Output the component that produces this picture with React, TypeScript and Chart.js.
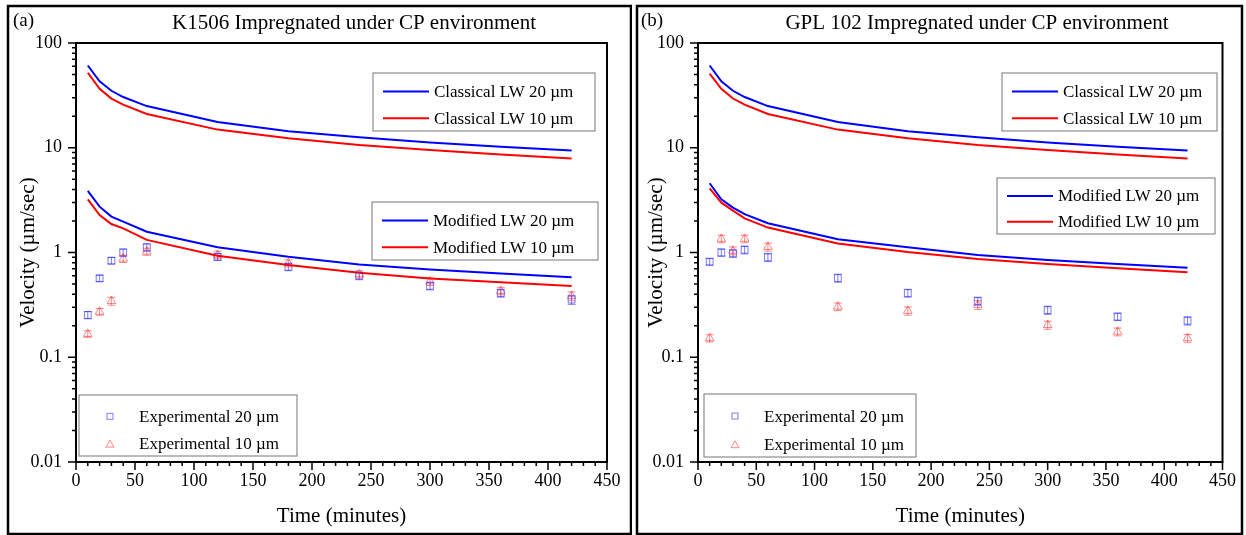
import React, { useEffect, useRef } from 'react';
import { Chart, registerables } from 'chart.js';

Chart.register(...registerables);

const FONT = '"Liberation Serif", "Times New Roman", Times, serif';

// ---------------- data ----------------
const times = [10, 20, 30, 40, 60, 120, 180, 240, 300, 360, 420];

const xTicks = [0, 50, 100, 150, 200, 250, 300, 350, 400, 450];
const yDecades = [0.01, 0.1, 1, 10, 100];
const yDecadeLabels = ['0.01', '0.1', '1', '10', '100'];

// Panel (a) K1506
const classA20 = [61, 43, 35, 30.5, 25, 17.6, 14.4, 12.6, 11.2, 10.2, 9.4];
const classA10 = [52, 36.5, 29.5, 25.8, 21, 14.9, 12.3, 10.6, 9.5, 8.6, 7.9];
const modA20 = [3.87, 2.74, 2.2, 1.97, 1.58, 1.12, 0.91, 0.77, 0.69, 0.63, 0.58];
const modA10 = [3.22, 2.28, 1.87, 1.7, 1.32, 0.93, 0.76, 0.64, 0.565, 0.52, 0.48];
const expA20 = [0.253, 0.567, 0.836, 1.0, 1.12, 0.91, 0.73, 0.6, 0.48, 0.41, 0.355];
const expA10 = [0.167, 0.272, 0.344, 0.873, 1.02, 0.95, 0.79, 0.62, 0.53, 0.43, 0.385];
const errA20 = [0.02, 0.04, 0.06, 0.08, 0.09, 0.07, 0.06, 0.05, 0.04, 0.035, 0.035];
const errA10 = [0.012, 0.02, 0.03, 0.07, 0.08, 0.08, 0.06, 0.05, 0.045, 0.035, 0.035];

// Panel (b) GPL 102
const classB20 = [61, 43, 35, 30.5, 25, 17.6, 14.4, 12.6, 11.2, 10.2, 9.4];
const classB10 = [51, 36.5, 29.5, 25.8, 21, 14.9, 12.3, 10.6, 9.5, 8.6, 7.9];
const modB20 = [4.58, 3.22, 2.68, 2.32, 1.9, 1.34, 1.12, 0.946, 0.85, 0.776, 0.715];
const modB10 = [4.1, 2.99, 2.51, 2.12, 1.73, 1.22, 1.01, 0.867, 0.776, 0.706, 0.647];
const expB20 = [0.817, 1.0, 0.98, 1.06, 0.9, 0.57, 0.41, 0.344, 0.282, 0.244, 0.223];
const expB10 = [0.152, 1.35, 1.04, 1.35, 1.13, 0.304, 0.277, 0.316, 0.203, 0.175, 0.152];
const errB20 = [0.06, 0.08, 0.08, 0.09, 0.08, 0.05, 0.035, 0.03, 0.025, 0.02, 0.02];
const errB10 = [0.012, 0.11, 0.09, 0.11, 0.1, 0.025, 0.025, 0.03, 0.018, 0.015, 0.013];

const seriesLabels = [
  'Classical LW 20 \u00b5m',
  'Classical LW 10 \u00b5m',
  'Modified LW 20 \u00b5m',
  'Modified LW 10 \u00b5m',
  'Experimental 20 \u00b5m',
  'Experimental 10 \u00b5m',
];

const BLUE = '#0000ff';
const RED = '#ff0000';
const BLUE_PT = 'rgba(40,40,255,0.6)';
const RED_PT = 'rgba(255,40,40,0.55)';

type Kind = 'line' | 'square' | 'triangle';
interface LegendItem { label: string; kind: Kind; color: string }
interface LegendBox { x: number; y: number; w: number; h: number; rows: [number, number]; items: LegendItem[] }

interface PanelSpec {
  tag: string;
  title: string;
  titleX: number;
  c20: number[]; c10: number[]; m20: number[]; m10: number[];
  e20: number[]; e10: number[]; er20: number[]; er10: number[];
  canvasLeft: number; width: number;
  yAxisWidth: number; padRight: number;
  frame: [number, number, number, number];
  legends: LegendBox[];
}

const H = 531;

function lineLegend(x: number, y: number, w: number, h: number, a: string, b: string): LegendBox {
  return { x, y, w, h, rows: [0.32, 0.78], items: [
    { label: a, kind: 'line', color: BLUE },
    { label: b, kind: 'line', color: RED },
  ] };
}
function expLegend(x: number, y: number, w: number, h: number): LegendBox {
  return { x, y, w, h, rows: [0.35, 0.8], items: [
    { label: seriesLabels[4], kind: 'square', color: BLUE_PT },
    { label: seriesLabels[5], kind: 'triangle', color: RED_PT },
  ] };
}

const panelA: PanelSpec = {
  tag: '(a)', title: 'K1506 Impregnated under CP environment', titleX: 348,
  c20: classA20, c10: classA10, m20: modA20, m10: modA10,
  e20: expA20, e10: expA10, er20: errA20, er10: errA10,
  canvasLeft: 6, width: 626, yAxisWidth: 70, padRight: 25,
  frame: [2, 2, 625, 530],
  legends: [
    lineLegend(367, 69, 222, 58, seriesLabels[0], seriesLabels[1]),
    lineLegend(366, 198, 226, 58, seriesLabels[2], seriesLabels[3]),
    expLegend(73, 391, 218, 61),
  ],
};

const panelB: PanelSpec = {
  tag: '(b)', title: 'GPL 102 Impregnated under CP environment', titleX: 343,
  c20: classB20, c10: classB10, m20: modB20, m10: modB10,
  e20: expB20, e10: expB10, er20: errB20, er10: errB10,
  canvasLeft: 634, width: 610, yAxisWidth: 64, padRight: 20,
  frame: [3, 2, 608, 530],
  legends: [
    lineLegend(368, 69, 215, 58, seriesLabels[0], seriesLabels[1]),
    lineLegend(363, 174, 218, 56, seriesLabels[2], seriesLabels[3]),
    expLegend(70, 390, 212, 63),
  ],
};

function pts(v: number[]) {
  return times.map((t, i) => ({ x: t, y: v[i] }));
}

function drawSquare(ctx: CanvasRenderingContext2D, x: number, y: number, s: number) {
  ctx.strokeRect(x - s / 2, y - s / 2, s, s);
}
function drawTriangle(ctx: CanvasRenderingContext2D, x: number, y: number, r: number) {
  ctx.beginPath();
  for (let k = 0; k < 3; k++) {
    const a = (k * 2 * Math.PI) / 3;
    const px = x + Math.sin(a) * r;
    const py = y - Math.cos(a) * r;
    if (k === 0) ctx.moveTo(px, py); else ctx.lineTo(px, py);
  }
  ctx.closePath();
  ctx.stroke();
}

function makeDecor(spec: PanelSpec) {
  return {
    id: 'decor',
    beforeDraw(chart: any) {
      const ctx = chart.ctx as CanvasRenderingContext2D;
      ctx.save();
      ctx.fillStyle = '#fff';
      ctx.fillRect(0, 0, chart.width, chart.height);
      const [x0, y0, x1, y1] = spec.frame;
      ctx.strokeStyle = '#000';
      ctx.lineWidth = 2.5;
      ctx.strokeRect(x0, y0, x1 - x0, y1 - y0);
      ctx.restore();
    },
    afterDatasetsDraw(chart: any) {
      const ctx = chart.ctx as CanvasRenderingContext2D;
      const ys = chart.scales.y;
      const errs: [number, number[], number[], string][] = [
        [4, spec.e20, spec.er20, BLUE_PT],
        [5, spec.e10, spec.er10, RED_PT],
      ];
      ctx.save();
      ctx.lineWidth = 1;
      for (const [di, vals, er, col] of errs) {
        const meta = chart.getDatasetMeta(di);
        ctx.strokeStyle = col;
        meta.data.forEach((p: any, i: number) => {
          const x = p.x;
          const yt = ys.getPixelForValue(vals[i] + er[i]);
          const yb = ys.getPixelForValue(vals[i] - er[i]);
          ctx.beginPath();
          ctx.moveTo(x, yt); ctx.lineTo(x, yb);
          ctx.moveTo(x - 4, yt); ctx.lineTo(x + 4, yt);
          ctx.moveTo(x - 4, yb); ctx.lineTo(x + 4, yb);
          ctx.stroke();
        });
      }
      ctx.restore();
    },
    afterDraw(chart: any) {
      const ctx = chart.ctx as CanvasRenderingContext2D;
      const { left, right, top, bottom } = chart.chartArea;
      const xs = chart.scales.x;
      const ys = chart.scales.y;
      ctx.save();
      // plot box
      ctx.strokeStyle = '#000';
      ctx.lineWidth = 2;
      ctx.strokeRect(left, top, right - left, bottom - top);
      // y ticks (major + minor)
      ctx.lineWidth = 1.5;
      ctx.beginPath();
      for (let d = 0; d < yDecades.length; d++) {
        const base = yDecades[d];
        const kmax = d === yDecades.length - 1 ? 1 : 9;
        for (let k = 1; k <= kmax; k++) {
          const y = ys.getPixelForValue(base * k);
          const len = k === 1 ? 8 : 4;
          ctx.moveTo(left - len, y);
          ctx.lineTo(left, y);
        }
      }
      // x ticks
      for (let t = 0; t <= 450; t += 10) {
        const x = xs.getPixelForValue(t);
        const len = t % 50 === 0 ? 8 : 4;
        ctx.moveTo(x, bottom);
        ctx.lineTo(x, bottom + len);
      }
      ctx.stroke();

      // titles
      ctx.fillStyle = '#000';
      ctx.textBaseline = 'middle';
      ctx.font = `19px ${FONT}`;
      ctx.textAlign = 'left';
      ctx.fillText(spec.tag, 7, 17);
      ctx.font = `21px ${FONT}`;
      ctx.textAlign = 'center';
      ctx.fillText(spec.title, spec.titleX, 19);

      // legends
      for (const lg of spec.legends) {
        ctx.strokeStyle = '#8c8c8c';
        ctx.lineWidth = 1.2;
        ctx.strokeRect(lg.x, lg.y, lg.w, lg.h);
        lg.items.forEach((it, i) => {
          const ry = lg.y + lg.h * lg.rows[i];
          ctx.font = `17px ${FONT}`;
          ctx.textAlign = 'left';
          ctx.textBaseline = 'middle';
          ctx.fillStyle = '#000';
          if (it.kind === 'line') {
            ctx.strokeStyle = it.color;
            ctx.lineWidth = 2;
            ctx.beginPath();
            ctx.moveTo(lg.x + 10, ry);
            ctx.lineTo(lg.x + 56, ry);
            ctx.stroke();
            ctx.fillText(it.label, lg.x + 61, ry + 1);
          } else {
            ctx.strokeStyle = it.color;
            ctx.lineWidth = 1;
            if (it.kind === 'square') drawSquare(ctx, lg.x + 31, ry, 6);
            else drawTriangle(ctx, lg.x + 31, ry + 1, 4.6);
            ctx.fillText(it.label, lg.x + 60, ry + 1);
          }
        });
      }
      ctx.restore();
    },
  };
}

function isDecade(v: number) {
  const l = Math.log10(v);
  return Math.abs(l - Math.round(l)) < 1e-7;
}

function Panel({ spec }: { spec: PanelSpec }) {
  const ref = useRef<HTMLCanvasElement>(null);
  useEffect(() => {
    const lineDs = (label: string, v: number[], color: string) => ({
      label, data: pts(v), borderColor: color, backgroundColor: color,
      borderWidth: 2, pointRadius: 0, tension: 0, showLine: true, fill: false,
    });
    const ptDs = (label: string, v: number[], color: string, style: string, r: number) => ({
      label, data: pts(v), showLine: false, borderColor: color,
      backgroundColor: 'rgba(0,0,0,0)', pointStyle: style, pointRadius: r,
      pointBorderWidth: 1, pointBorderColor: color, pointBackgroundColor: 'rgba(0,0,0,0)',
    });
    const chart = new Chart(ref.current as HTMLCanvasElement, {
      type: 'line',
      data: {
        datasets: [
          lineDs(seriesLabels[0], spec.c20, BLUE),
          lineDs(seriesLabels[1], spec.c10, RED),
          lineDs(seriesLabels[2], spec.m20, BLUE),
          lineDs(seriesLabels[3], spec.m10, RED),
          ptDs(seriesLabels[4], spec.e20, BLUE_PT, 'rect', 4.8),
          ptDs(seriesLabels[5], spec.e10, RED_PT, 'triangle', 5),
        ] as any,
      },
      options: {
        animation: false,
        responsive: false,
        devicePixelRatio: 1,
        layout: { padding: { left: 0, top: 39, right: spec.padRight, bottom: 0 } },
        plugins: { legend: { display: false }, tooltip: { enabled: false }, title: { display: false } },
        scales: {
          x: {
            type: 'linear', min: 0, max: 450,
            afterBuildTicks: (s: any) => { s.ticks = xTicks.map((v) => ({ value: v })); },
            ticks: { font: { family: FONT, size: 18 }, color: '#000', padding: 8, maxRotation: 0, autoSkip: false },
            grid: { display: false, drawTicks: false },
            border: { display: false },
            title: { display: true, text: 'Time (minutes)', color: '#000', font: { family: FONT, size: 21 }, padding: { top: 0, bottom: 6 } },
            afterFit: (s: any) => { s.height = 73; },
          },
          y: {
            type: 'logarithmic', min: 0.01, max: 100,
            ticks: {
              autoSkip: false, color: '#000', font: { family: FONT, size: 18 }, padding: 14,
              callback: (v: any) => {
                const n = Number(v);
                if (!isDecade(n)) return '';
                const idx = yDecades.findIndex((d) => Math.abs(d - n) / d < 1e-6);
                return idx >= 0 ? yDecadeLabels[idx] : '';
              },
            },
            grid: { display: false, drawTicks: false },
            border: { display: false },
            title: { display: true, text: 'Velocity (\u00b5m/sec)', color: '#000', font: { family: FONT, size: 21 }, padding: { top: 10, bottom: 0 } },
            afterFit: (s: any) => { s.width = spec.yAxisWidth; },
          },
        },
      } as any,
      plugins: [makeDecor(spec) as any],
    });
    return () => chart.destroy();
  }, [spec]);
  return (
    <div style={{ position: 'absolute', left: spec.canvasLeft, top: 4, width: spec.width, height: H }}>
      <canvas ref={ref} width={spec.width} height={H} style={{ width: spec.width, height: H, display: 'block' }} />
    </div>
  );
}

export default function App() {
  return (
    <div style={{ position: 'fixed', left: 0, top: 0, width: 1246, height: 535, background: '#fff', overflow: 'hidden' }}>
      <Panel spec={panelA} />
      <Panel spec={panelB} />
    </div>
  );
}
